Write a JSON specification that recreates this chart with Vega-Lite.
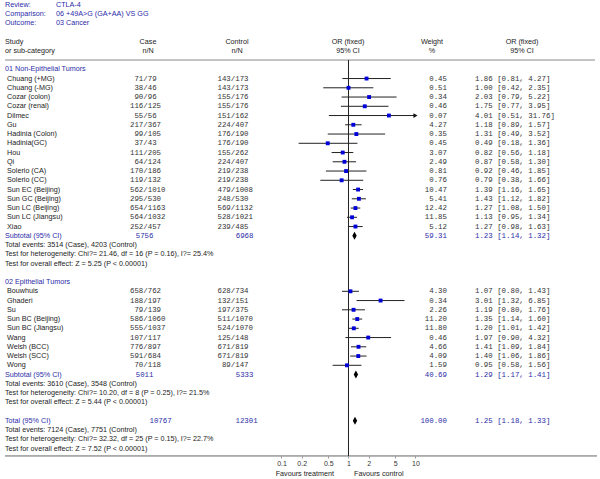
{
  "$schema": "https://vega.github.io/schema/vega-lite/v6.json",
  "width": 600,
  "height": 479,
  "autosize": {"type": "fit", "contains": "padding"},
  "padding": 0,
  "background": "white",
  "config": {"view": {"stroke": null}, "text": {"font": "Liberation Sans", "fontSize": 7.2}},
  "datasets": {
    "rows": [
      {"row": 1, "label": "Chuang (+MG)", "kind": "study", "cn": 71, "cN": 79, "tn": 143, "tN": 173, "weight": 0.45, "or": 1.86, "lo": 0.81, "hi": 4.27},
      {"row": 2, "label": "Chuang (-MG)", "kind": "study", "cn": 38, "cN": 46, "tn": 143, "tN": 173, "weight": 0.51, "or": 1.00, "lo": 0.42, "hi": 2.35},
      {"row": 3, "label": "Cozar (colon)", "kind": "study", "cn": 90, "cN": 96, "tn": 155, "tN": 176, "weight": 0.34, "or": 2.03, "lo": 0.79, "hi": 5.22},
      {"row": 4, "label": "Cozar (renal)", "kind": "study", "cn": 116, "cN": 125, "tn": 155, "tN": 176, "weight": 0.46, "or": 1.75, "lo": 0.77, "hi": 3.95},
      {"row": 5, "label": "Dilmec", "kind": "study", "cn": 55, "cN": 56, "tn": 151, "tN": 162, "weight": 0.07, "or": 4.01, "lo": 0.51, "hi": 31.76},
      {"row": 6, "label": "Gu", "kind": "study", "cn": 217, "cN": 367, "tn": 224, "tN": 407, "weight": 4.27, "or": 1.18, "lo": 0.89, "hi": 1.57},
      {"row": 7, "label": "Hadinia (Colon)", "kind": "study", "cn": 99, "cN": 105, "tn": 176, "tN": 190, "weight": 0.35, "or": 1.31, "lo": 0.49, "hi": 3.52},
      {"row": 8, "label": "Hadinia(GC)", "kind": "study", "cn": 37, "cN": 43, "tn": 176, "tN": 190, "weight": 0.45, "or": 0.49, "lo": 0.18, "hi": 1.36},
      {"row": 9, "label": "Hou", "kind": "study", "cn": 111, "cN": 205, "tn": 155, "tN": 262, "weight": 3.07, "or": 0.82, "lo": 0.56, "hi": 1.18},
      {"row": 10, "label": "Qi", "kind": "study", "cn": 64, "cN": 124, "tn": 224, "tN": 407, "weight": 2.49, "or": 0.87, "lo": 0.58, "hi": 1.30},
      {"row": 11, "label": "Solerio (CA)", "kind": "study", "cn": 170, "cN": 186, "tn": 219, "tN": 238, "weight": 0.81, "or": 0.92, "lo": 0.46, "hi": 1.85},
      {"row": 12, "label": "Solerio (CC)", "kind": "study", "cn": 119, "cN": 132, "tn": 219, "tN": 238, "weight": 0.76, "or": 0.79, "lo": 0.38, "hi": 1.66},
      {"row": 13, "label": "Sun EC (Beijing)", "kind": "study", "cn": 562, "cN": 1010, "tn": 479, "tN": 1008, "weight": 10.47, "or": 1.39, "lo": 1.16, "hi": 1.65},
      {"row": 14, "label": "Sun GC (Beijing)", "kind": "study", "cn": 295, "cN": 530, "tn": 248, "tN": 530, "weight": 5.41, "or": 1.43, "lo": 1.12, "hi": 1.82},
      {"row": 15, "label": "Sun LC (Beijing)", "kind": "study", "cn": 654, "cN": 1163, "tn": 569, "tN": 1132, "weight": 12.42, "or": 1.27, "lo": 1.08, "hi": 1.50},
      {"row": 16, "label": "Sun LC (Jiangsu)", "kind": "study", "cn": 564, "cN": 1032, "tn": 528, "tN": 1021, "weight": 11.85, "or": 1.13, "lo": 0.95, "hi": 1.34},
      {"row": 17, "label": "Xiao", "kind": "study", "cn": 252, "cN": 457, "tn": 239, "tN": 485, "weight": 5.12, "or": 1.27, "lo": 0.98, "hi": 1.63},
      {"row": 18, "label": "Subtotal (95% CI)", "kind": "subtotal", "cN": 5756, "tN": 6968, "weight": 59.31, "or": 1.23, "lo": 1.14, "hi": 1.32},
      {"row": 24, "label": "Bouwhuis", "kind": "study", "cn": 658, "cN": 762, "tn": 628, "tN": 734, "weight": 4.30, "or": 1.07, "lo": 0.80, "hi": 1.43},
      {"row": 25, "label": "Ghaderi", "kind": "study", "cn": 188, "cN": 197, "tn": 132, "tN": 151, "weight": 0.34, "or": 3.01, "lo": 1.32, "hi": 6.85},
      {"row": 26, "label": "Su", "kind": "study", "cn": 79, "cN": 139, "tn": 197, "tN": 375, "weight": 2.26, "or": 1.19, "lo": 0.80, "hi": 1.76},
      {"row": 27, "label": "Sun BC (Beijing)", "kind": "study", "cn": 586, "cN": 1060, "tn": 511, "tN": 1070, "weight": 11.20, "or": 1.35, "lo": 1.14, "hi": 1.60},
      {"row": 28, "label": "Sun BC (Jiangsu)", "kind": "study", "cn": 555, "cN": 1037, "tn": 524, "tN": 1070, "weight": 11.80, "or": 1.20, "lo": 1.01, "hi": 1.42},
      {"row": 29, "label": "Wang", "kind": "study", "cn": 107, "cN": 117, "tn": 125, "tN": 148, "weight": 0.46, "or": 1.97, "lo": 0.90, "hi": 4.32},
      {"row": 30, "label": "Welsh (BCC)", "kind": "study", "cn": 776, "cN": 897, "tn": 671, "tN": 819, "weight": 4.66, "or": 1.41, "lo": 1.09, "hi": 1.84},
      {"row": 31, "label": "Welsh (SCC)", "kind": "study", "cn": 591, "cN": 684, "tn": 671, "tN": 819, "weight": 4.09, "or": 1.40, "lo": 1.06, "hi": 1.86},
      {"row": 32, "label": "Wong", "kind": "study", "cn": 70, "cN": 118, "tn": 89, "tN": 147, "weight": 1.59, "or": 0.95, "lo": 0.58, "hi": 1.56},
      {"row": 33, "label": "Subtotal (95% CI)", "kind": "subtotal", "cN": 5011, "tN": 5333, "weight": 40.69, "or": 1.29, "lo": 1.17, "hi": 1.41},
      {"row": 38, "label": "Total (95% CI)", "kind": "total", "cN": 10767, "tN": 12301, "weight": 100.00, "or": 1.25, "lo": 1.18, "hi": 1.33}
    ],
    "notes": [
      {"row": 0, "kind": "heading", "text": "01 Non-Epithelial Tumors"},
      {"row": 19, "kind": "note", "text": "Total events: 3514 (Case), 4203 (Control)"},
      {"row": 20, "kind": "note", "text": "Test for heterogeneity: Chi?= 21.46, df = 16 (P = 0.16), I?= 25.4%"},
      {"row": 21, "kind": "note", "text": "Test for overall effect: Z = 5.25 (P < 0.00001)"},
      {"row": 23, "kind": "heading", "text": "02 Epithelial Tumors"},
      {"row": 34, "kind": "note", "text": "Total events: 3610 (Case), 3548 (Control)"},
      {"row": 35, "kind": "note", "text": "Test for heterogeneity: Chi?= 10.20, df = 8 (P = 0.25), I?= 21.5%"},
      {"row": 36, "kind": "note", "text": "Test for overall effect: Z = 5.44 (P < 0.00001)"},
      {"row": 39, "kind": "note", "text": "Total events: 7124 (Case), 7751 (Control)"},
      {"row": 40, "kind": "note", "text": "Test for heterogeneity: Chi?= 32.32, df = 25 (P = 0.15), I?= 22.7%"},
      {"row": 41, "kind": "note", "text": "Test for overall effect: Z = 7.52 (P < 0.00001)"}
    ],
    "header": [
      {"row": -7, "col": "lab", "text": "Review:"},
      {"row": -7, "col": "val", "text": "CTLA-4"},
      {"row": -6, "col": "lab", "text": "Comparison:"},
      {"row": -6, "col": "val", "text": "06 +49A>G (GA+AA) VS GG"},
      {"row": -5, "col": "lab", "text": "Outcome:"},
      {"row": -5, "col": "val", "text": "03 Cancer"},
      {"row": -3, "col": "study", "text": "Study"},
      {"row": -2, "col": "study", "text": "or sub-category"},
      {"row": -3, "col": "case", "text": "Case"},
      {"row": -2, "col": "case", "text": "n/N"},
      {"row": -3, "col": "control", "text": "Control"},
      {"row": -2, "col": "control", "text": "n/N"},
      {"row": -3, "col": "plot", "text": "OR (fixed)"},
      {"row": -2, "col": "plot", "text": "95% CI"},
      {"row": -3, "col": "weight", "text": "Weight"},
      {"row": -2, "col": "weight", "text": "%"},
      {"row": -3, "col": "orci", "text": "OR (fixed)"},
      {"row": -2, "col": "orci", "text": "95% CI"},
      {"row": 43.7, "col": "favL", "text": "Favours treatment"},
      {"row": 43.7, "col": "favR", "text": "Favours control"}
    ],
    "guides": [
      {"guide": "headerLine", "row": -1, "rowEnd": -1, "or": 1},
      {"guide": "axisLine", "row": 41.8, "rowEnd": 41.8, "or": 1},
      {"guide": "nullLine", "row": -1, "rowEnd": 41.8, "or": 1}
    ]
  },
  "layer": [
    {
      "data": {"name": "guides"},
      "transform": [{"filter": "datum.guide === 'headerLine'"}],
      "mark": {"type": "rule", "color": "#8a8a8a", "strokeWidth": 1},
      "encoding": {
        "y": {"field": "row", "type": "quantitative", "scale": {"domain": [-7.49, 44.29], "reverse": true, "nice": false, "zero": false}, "axis": null},
        "x": {"value": 5}, "x2": {"value": 595}
      }
    },
    {
      "data": {"name": "guides"},
      "transform": [{"filter": "datum.guide === 'axisLine'"}],
      "mark": {"type": "rule", "color": "#666", "strokeWidth": 1},
      "encoding": {
        "y": {"field": "row", "type": "quantitative", "axis": null},
        "x": {"value": 5}, "x2": {"value": 597}
      }
    },
    {
      "data": {"name": "rows"},
      "transform": [{"calculate": "min(datum.hi, 10)", "as": "hiClip"}, {"filter": "datum.kind === 'study'"}],
      "mark": {"type": "rule", "color": "#222", "strokeWidth": 1},
      "encoding": {
        "y": {"field": "row", "type": "quantitative", "axis": null},
        "x": {"field": "lo", "type": "quantitative", "title": null,
          "scale": {"type": "log", "domain": [0.00000629, 5672], "nice": false},
          "axis": {"values": [0.1, 0.2, 0.5, 1, 2, 5, 10], "offset": -23, "domain": false, "tickSize": 2, "labelPadding": 1, "labelFontSize": 7, "labelFont": "Liberation Sans", "labelColor": "#333", "tickColor": "#999", "grid": false, "title": null, "labelFlush": false, "labelOverlap": false, "format": "~g"}},
        "x2": {"field": "hiClip"}
      }
    },
    {
      "data": {"name": "guides"},
      "transform": [{"filter": "datum.guide === 'nullLine'"}],
      "mark": {"type": "rule", "color": "#222", "strokeWidth": 1},
      "encoding": {
        "x": {"field": "or", "type": "quantitative", "title": null},
        "y": {"field": "row", "type": "quantitative", "axis": null},
        "y2": {"field": "rowEnd"}
      }
    },
    {
      "data": {"name": "rows"},
      "transform": [{"filter": "datum.hi > 10"}, {"calculate": "min(datum.hi, 10)", "as": "hiClip"}],
      "mark": {"type": "point", "shape": "triangle-right", "filled": true, "color": "#111", "size": 22, "opacity": 1},
      "encoding": {"x": {"field": "hiClip", "type": "quantitative", "title": null}, "y": {"field": "row", "type": "quantitative", "axis": null}}
    },
    {
      "data": {"name": "rows"},
      "transform": [{"filter": "datum.kind === 'study'"}],
      "mark": {"type": "point", "shape": "square", "filled": true, "color": "#0000d8", "size": 15, "opacity": 1},
      "encoding": {"x": {"field": "or", "type": "quantitative", "title": null}, "y": {"field": "row", "type": "quantitative", "axis": null}}
    },
    {
      "data": {"name": "rows"},
      "transform": [{"filter": "datum.kind !== 'study'"}],
      "mark": {"type": "point", "shape": "M-0.55,0L0,-1L0.55,0L0,1Z", "filled": true, "color": "#000", "size": 64, "opacity": 1},
      "encoding": {"x": {"field": "or", "type": "quantitative", "title": null}, "y": {"field": "row", "type": "quantitative", "axis": null}}
    },
    {
      "data": {"name": "rows"},
      "transform": [{"filter": "datum.kind === 'study'"}],
      "mark": {"type": "text", "align": "left", "baseline": "middle", "color": "#222"},
      "encoding": {"x": {"value": 7}, "y": {"field": "row", "type": "quantitative", "axis": null}, "text": {"field": "label"}}
    },
    {
      "data": {"name": "rows"},
      "transform": [{"filter": "datum.kind !== 'study'"}],
      "mark": {"type": "text", "align": "left", "baseline": "middle", "color": "#2b2ba8"},
      "encoding": {"x": {"value": 5}, "y": {"field": "row", "type": "quantitative", "axis": null}, "text": {"field": "label"}}
    },
    {
      "data": {"name": "rows"},
      "transform": [{"filter": "datum.kind === 'study'"}, {"calculate": "datum.cn + '/'", "as": "cTxt"}],
      "mark": {"type": "text", "align": "right", "baseline": "middle", "color": "#333", "font": "Liberation Mono", "fontSize": 7.4},
      "encoding": {"x": {"value": 147.7}, "y": {"field": "row", "type": "quantitative", "axis": null}, "text": {"field": "cTxt"}}
    },
    {
      "data": {"name": "rows"},
      "transform": [{"filter": "datum.kind === 'study'"}],
      "mark": {"type": "text", "align": "left", "baseline": "middle", "color": "#333", "font": "Liberation Mono", "fontSize": 7.4},
      "encoding": {"x": {"value": 147.7}, "y": {"field": "row", "type": "quantitative", "axis": null}, "text": {"field": "cN"}}
    },
    {
      "data": {"name": "rows"},
      "transform": [{"filter": "datum.kind === 'study'"}, {"calculate": "datum.tn + '/'", "as": "tTxt"}],
      "mark": {"type": "text", "align": "right", "baseline": "middle", "color": "#333", "font": "Liberation Mono", "fontSize": 7.4},
      "encoding": {"x": {"value": 235.2}, "y": {"field": "row", "type": "quantitative", "axis": null}, "text": {"field": "tTxt"}}
    },
    {
      "data": {"name": "rows"},
      "transform": [{"filter": "datum.kind === 'study'"}],
      "mark": {"type": "text", "align": "left", "baseline": "middle", "color": "#333", "font": "Liberation Mono", "fontSize": 7.4},
      "encoding": {"x": {"value": 235.2}, "y": {"field": "row", "type": "quantitative", "axis": null}, "text": {"field": "tN"}}
    },
    {
      "data": {"name": "rows"},
      "transform": [{"filter": "datum.kind === 'subtotal'"}],
      "mark": {"type": "text", "align": "right", "baseline": "middle", "color": "#2b2ba8", "font": "Liberation Mono", "fontSize": 7.4},
      "encoding": {"x": {"value": 153.5}, "y": {"field": "row", "type": "quantitative", "axis": null}, "text": {"field": "cN"}}
    },
    {
      "data": {"name": "rows"},
      "transform": [{"filter": "datum.kind === 'subtotal'"}],
      "mark": {"type": "text", "align": "right", "baseline": "middle", "color": "#2b2ba8", "font": "Liberation Mono", "fontSize": 7.4},
      "encoding": {"x": {"value": 253.5}, "y": {"field": "row", "type": "quantitative", "axis": null}, "text": {"field": "tN"}}
    },
    {
      "data": {"name": "rows"},
      "transform": [{"filter": "datum.kind === 'total'"}],
      "mark": {"type": "text", "align": "left", "baseline": "middle", "color": "#2b2ba8", "font": "Liberation Mono", "fontSize": 7.4},
      "encoding": {"x": {"value": 149.5}, "y": {"field": "row", "type": "quantitative", "axis": null}, "text": {"field": "cN"}}
    },
    {
      "data": {"name": "rows"},
      "transform": [{"filter": "datum.kind === 'total'"}],
      "mark": {"type": "text", "align": "left", "baseline": "middle", "color": "#2b2ba8", "font": "Liberation Mono", "fontSize": 7.4},
      "encoding": {"x": {"value": 235.5}, "y": {"field": "row", "type": "quantitative", "axis": null}, "text": {"field": "tN"}}
    },
    {
      "data": {"name": "rows"},
      "transform": [{"calculate": "format(datum.weight, '.2f')", "as": "wTxt"}],
      "mark": {"type": "text", "align": "right", "baseline": "middle", "font": "Liberation Mono", "fontSize": 7.4},
      "encoding": {
        "x": {"value": 447},
        "y": {"field": "row", "type": "quantitative", "axis": null},
        "text": {"field": "wTxt"},
        "color": {"condition": {"test": "datum.kind !== 'study'", "value": "#2b2ba8"}, "value": "#333"}
      }
    },
    {
      "data": {"name": "rows"},
      "transform": [{"calculate": "format(datum.or, '.2f') + ' [' + format(datum.lo, '.2f') + ', ' + format(datum.hi, '.2f') + ']'", "as": "orTxt"}],
      "mark": {"type": "text", "align": "left", "baseline": "middle", "font": "Liberation Mono", "fontSize": 7.4},
      "encoding": {
        "x": {"value": 475},
        "y": {"field": "row", "type": "quantitative", "axis": null},
        "text": {"field": "orTxt"},
        "color": {"condition": {"test": "datum.kind !== 'study'", "value": "#2b2ba8"}, "value": "#333"}
      }
    },
    {
      "data": {"name": "notes"},
      "mark": {"type": "text", "align": "left", "baseline": "middle"},
      "encoding": {
        "x": {"value": 5},
        "y": {"field": "row", "type": "quantitative", "axis": null},
        "text": {"field": "text"},
        "color": {"condition": {"test": "datum.kind === 'heading'", "value": "#2b2ba8"}, "value": "#222"}
      }
    },
    {
      "data": {"name": "header"},
      "transform": [{"filter": "datum.col === 'lab'"}],
      "mark": {"type": "text", "align": "left", "baseline": "middle", "color": "#2b2ba8"},
      "encoding": {"x": {"value": 5}, "y": {"field": "row", "type": "quantitative", "axis": null}, "text": {"field": "text"}}
    },
    {
      "data": {"name": "header"},
      "transform": [{"filter": "datum.col === 'val'"}],
      "mark": {"type": "text", "align": "left", "baseline": "middle", "color": "#2b2ba8"},
      "encoding": {"x": {"value": 56}, "y": {"field": "row", "type": "quantitative", "axis": null}, "text": {"field": "text"}}
    },
    {
      "data": {"name": "header"},
      "transform": [{"filter": "datum.col === 'study'"}],
      "mark": {"type": "text", "align": "left", "baseline": "middle", "color": "#222"},
      "encoding": {"x": {"value": 5}, "y": {"field": "row", "type": "quantitative", "axis": null}, "text": {"field": "text"}}
    },
    {
      "data": {"name": "header"},
      "transform": [{"filter": "datum.col === 'case'"}],
      "mark": {"type": "text", "align": "center", "baseline": "middle", "color": "#222"},
      "encoding": {"x": {"value": 148}, "y": {"field": "row", "type": "quantitative", "axis": null}, "text": {"field": "text"}}
    },
    {
      "data": {"name": "header"},
      "transform": [{"filter": "datum.col === 'control'"}],
      "mark": {"type": "text", "align": "center", "baseline": "middle", "color": "#222"},
      "encoding": {"x": {"value": 237}, "y": {"field": "row", "type": "quantitative", "axis": null}, "text": {"field": "text"}}
    },
    {
      "data": {"name": "header"},
      "transform": [{"filter": "datum.col === 'plot'"}],
      "mark": {"type": "text", "align": "center", "baseline": "middle", "color": "#222"},
      "encoding": {"x": {"value": 348}, "y": {"field": "row", "type": "quantitative", "axis": null}, "text": {"field": "text"}}
    },
    {
      "data": {"name": "header"},
      "transform": [{"filter": "datum.col === 'weight'"}],
      "mark": {"type": "text", "align": "center", "baseline": "middle", "color": "#222"},
      "encoding": {"x": {"value": 432}, "y": {"field": "row", "type": "quantitative", "axis": null}, "text": {"field": "text"}}
    },
    {
      "data": {"name": "header"},
      "transform": [{"filter": "datum.col === 'orci'"}],
      "mark": {"type": "text", "align": "center", "baseline": "middle", "color": "#222"},
      "encoding": {"x": {"value": 522}, "y": {"field": "row", "type": "quantitative", "axis": null}, "text": {"field": "text"}}
    },
    {
      "data": {"name": "header"},
      "transform": [{"filter": "datum.col === 'favL'"}],
      "mark": {"type": "text", "align": "right", "baseline": "middle", "color": "#222"},
      "encoding": {"x": {"value": 334}, "y": {"field": "row", "type": "quantitative", "axis": null}, "text": {"field": "text"}}
    },
    {
      "data": {"name": "header"},
      "transform": [{"filter": "datum.col === 'favR'"}],
      "mark": {"type": "text", "align": "left", "baseline": "middle", "color": "#222"},
      "encoding": {"x": {"value": 354}, "y": {"field": "row", "type": "quantitative", "axis": null}, "text": {"field": "text"}}
    }
  ]
}
